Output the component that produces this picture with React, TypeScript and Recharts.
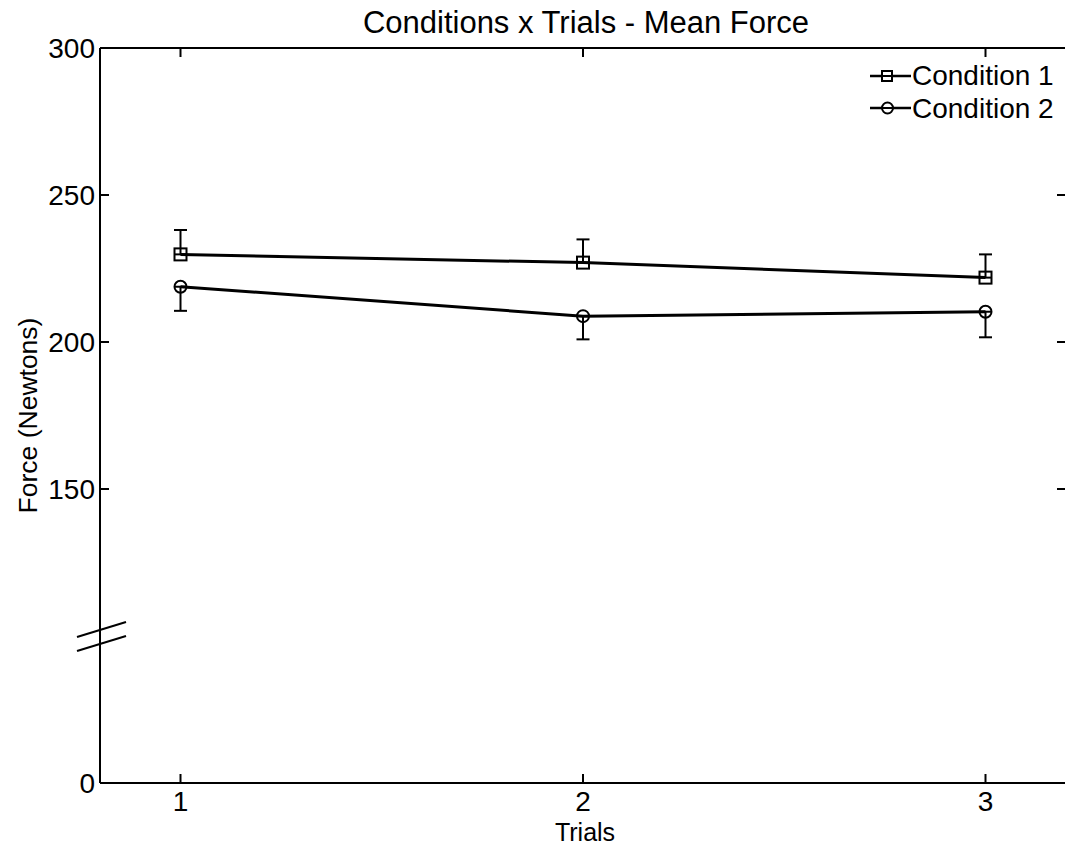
import React from 'react';
import { LineChart, Line, XAxis, YAxis, ErrorBar, Legend, ReferenceDot, Label } from 'recharts';

const FONT = '"Liberation Sans", Arial, Helvetica, sans-serif';

const trials = [1, 2, 3];
const condition1 = [229.8, 227.0, 221.9];
const condition1Err = [8.3, 7.9, 7.9];
const condition2 = [218.8, 208.8, 210.3];
const condition2Err = [8.2, 7.9, 8.7];
const seriesNames = ['Condition 1', 'Condition 2'];
const yTicks = [50, 150, 200, 250, 300];
const yTickLabels: Record<number, string> = { 50: '0', 150: '150', 200: '200', 250: '250', 300: '300' };
const xTicks = [1, 2, 3];
const breakValue = 100;
const title = 'Conditions x Trials - Mean Force';
const xLabel = 'Trials';
const yLabel = 'Force (Newtons)';

const data = trials.map((t, i) => ({
  trial: t,
  c1: condition1[i],
  c1Err: [0, condition1Err[i]],
  c2: condition2[i],
  c2Err: [condition2Err[i], 0],
}));

const TICK_LEN = 9;

const LeftTick = (props: any) => {
  const { x, y, payload } = props;
  const ax = x + 5;
  return (
    <g>
      <line x1={ax} y1={y} x2={ax + TICK_LEN} y2={y} stroke="#000" strokeWidth={2} />
      <text x={x} y={y} dy="0.35em" textAnchor="end" fontSize={28} fontFamily={FONT} fill="#000">
        {yTickLabels[payload.value]}
      </text>
    </g>
  );
};

const RightTick = (props: any) => {
  const { x, y } = props;
  return <line x1={x - TICK_LEN} y1={y} x2={x} y2={y} stroke="#000" strokeWidth={2} />;
};

const BottomTick = (props: any) => {
  const { x, y, payload } = props;
  const ay = y - 10;
  return (
    <g>
      <line x1={x} y1={ay} x2={x} y2={ay - TICK_LEN} stroke="#000" strokeWidth={2} />
      <text x={x} y={y + 18} textAnchor="middle" fontSize={28} fontFamily={FONT} fill="#000">
        {payload.value}
      </text>
    </g>
  );
};

const TopTick = (props: any) => {
  const { x, y } = props;
  return <line x1={x} y1={y} x2={x} y2={y + TICK_LEN} stroke="#000" strokeWidth={2} />;
};

const squareDot = (p: any) => (
  <rect key={`sq-${p.index}`} x={p.cx - 6} y={p.cy - 6} width={12} height={12} fill="none" stroke="#000" strokeWidth={2} />
);
const circleDot = (p: any) => (
  <circle key={`ci-${p.index}`} cx={p.cx} cy={p.cy} r={6} fill="none" stroke="#000" strokeWidth={2} />
);

const BreakMark = (p: any) => {
  const { cx, cy } = p;
  return (
    <g>
      <line x1={cx - 23} y1={cy + 1} x2={cx + 26} y2={cy - 14} stroke="#000" strokeWidth={2} />
      <line x1={cx - 23} y1={cy + 15} x2={cx + 26} y2={cy} stroke="#000" strokeWidth={2} />
    </g>
  );
};

const LegendContent = (props: any) => {
  const payload = props.payload || [];
  const names = seriesNames.map((n, i) => (payload[i] && payload[i].value) || n);
  return (
    <svg width={210} height={80} style={{ display: 'block', overflow: 'visible' }}>
      <line x1={10} y1={26} x2={51} y2={26} stroke="#000" strokeWidth={2.5} />
      <rect x={22} y={21} width={10} height={10} fill="#fff" stroke="#000" strokeWidth={2} />
      <line x1={22} y1={26} x2={32} y2={26} stroke="#000" strokeWidth={2} />
      <text x={52} y={35} fontSize={28} fontFamily={FONT} fill="#000">{names[0]}</text>
      <line x1={10} y1={58} x2={51} y2={58} stroke="#000" strokeWidth={2.5} />
      <circle cx={27.5} cy={58} r={5.5} fill="#fff" stroke="#000" strokeWidth={2} />
      <line x1={22} y1={58} x2={33} y2={58} stroke="#000" strokeWidth={2} />
      <text x={52} y={68} fontSize={28} fontFamily={FONT} fill="#000">{names[1]}</text>
    </svg>
  );
};

export default function App() {
  return (
    <div style={{ position: 'absolute', left: 0, top: 0, width: 1065, height: 849, overflow: 'hidden', background: '#fff' }}>
      <LineChart width={1075} height={849} data={data} margin={{ top: 0, right: 8, bottom: 0, left: 0 }}>
        <XAxis
          xAxisId="top"
          orientation="top"
          type="number"
          dataKey="trial"
          domain={[0.8, 3.2]}
          ticks={xTicks}
          height={48}
          tickSize={0}
          tickMargin={0}
          tickLine={false}
          axisLine={{ stroke: '#000', strokeWidth: 2 }}
          tick={TopTick}
          allowDataOverflow
        >
          <Label
            content={(p: any) => {
              const vb = p.viewBox || { x: 100, width: 966 };
              return (
                <text x={vb.x + vb.width / 2 + 3} y={33} textAnchor="middle" fontSize={31} fontFamily={FONT} fill="#000">
                  {title}
                </text>
              );
            }}
          />
        </XAxis>
        <XAxis
          type="number"
          dataKey="trial"
          domain={[0.8, 3.2]}
          ticks={xTicks}
          height={66}
          tickSize={0}
          tickMargin={10}
          tickLine={false}
          axisLine={{ stroke: '#000', strokeWidth: 2 }}
          tick={BottomTick}
          allowDataOverflow
        >
          <Label
            content={(p: any) => {
              const vb = p.viewBox || { x: 100, width: 966 };
              return (
                <text x={vb.x + vb.width / 2 + 2} y={841} textAnchor="middle" fontSize={25} fontFamily={FONT} fill="#000">
                  {xLabel}
                </text>
              );
            }}
          />
        </XAxis>
        <YAxis
          type="number"
          domain={[50, 300]}
          ticks={yTicks}
          width={100}
          tickSize={0}
          tickMargin={5}
          tickLine={false}
          axisLine={{ stroke: '#000', strokeWidth: 2 }}
          tick={LeftTick}
          allowDataOverflow
        >
          <Label
            content={(p: any) => {
              const vb = p.viewBox || { y: 48, height: 735 };
              const cy = vb.y + vb.height / 2;
              return (
                <text x={36.5} y={cy} transform={`rotate(-90, 36.5, ${cy})`} textAnchor="middle" fontSize={26.5} fontFamily={FONT} fill="#000">
                  {yLabel}
                </text>
              );
            }}
          />
        </YAxis>
        <YAxis
          yAxisId="right"
          orientation="right"
          type="number"
          domain={[50, 300]}
          ticks={yTicks}
          width={1}
          tickSize={0}
          tickMargin={0}
          tickLine={false}
          axisLine={false}
          tick={RightTick}
          allowDataOverflow
        />
        <Legend
          layout="vertical"
          align="center"
          verticalAlign="middle"
          content={LegendContent}
          wrapperStyle={{ position: 'absolute', left: 860, top: 50, width: 210, height: 80, margin: 0 }}
        />
        <ReferenceDot x={0.8} y={breakValue} ifOverflow="visible" shape={BreakMark} />
        <Line
          dataKey="c1"
          name={seriesNames[0]}
          stroke="#000"
          strokeWidth={3}
          dot={squareDot}
          activeDot={false}
          isAnimationActive={false}
        >
          <ErrorBar dataKey="c1Err" direction="y" width={6.5} stroke="#000" strokeWidth={2} isAnimationActive={false} />
        </Line>
        <Line
          dataKey="c2"
          name={seriesNames[1]}
          stroke="#000"
          strokeWidth={3}
          dot={circleDot}
          activeDot={false}
          isAnimationActive={false}
        >
          <ErrorBar dataKey="c2Err" direction="y" width={6.5} stroke="#000" strokeWidth={2} isAnimationActive={false} />
        </Line>
      </LineChart>
    </div>
  );
}
